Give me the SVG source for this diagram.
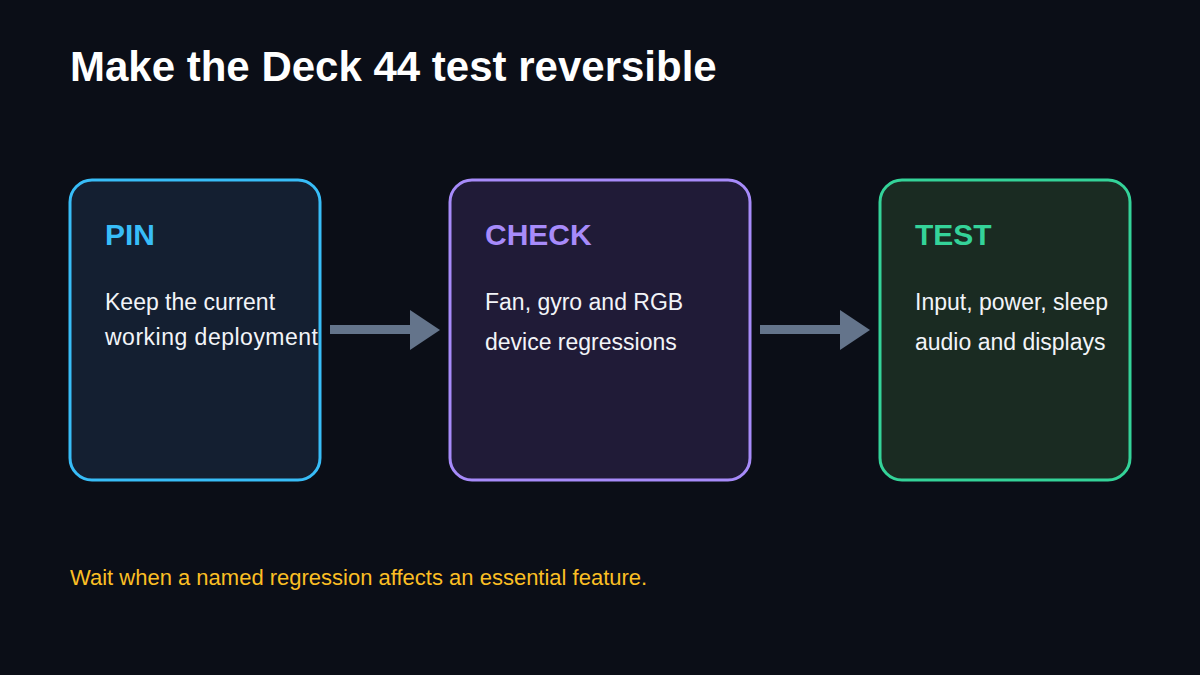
<svg xmlns="http://www.w3.org/2000/svg" width="1200" height="675" viewBox="0 0 1200 675">
<style>
text{font-family:"Liberation Sans",Arial,sans-serif}
.h{font-size:30px;font-weight:bold}
.b{font-size:23px;fill:#f2f4f8}
</style>
<rect width="1200" height="675" fill="#0b0e17"/>
<text x="70" y="81" font-size="42" font-weight="bold" fill="#fff">Make the Deck 44 test reversible</text>
<g id="pin"><rect x="70" y="180" width="250" height="300" rx="22" fill="#141f31" stroke="#38bdf8" stroke-width="3"/>
<text x="105" y="245" class="h" fill="#38bdf8">PIN</text>
<text x="105" y="310" class="b">Keep the current</text><text x="105" y="345" class="b" textLength="213">working deployment</text></g>
<g id="check"><rect x="450" y="180" width="300" height="300" rx="22" fill="#201b37" stroke="#a78bfa" stroke-width="3"/>
<text x="485" y="245" class="h" fill="#a78bfa">CHECK</text>
<text x="485" y="310" class="b">Fan, gyro and RGB</text><text x="485" y="350" class="b">device regressions</text></g>
<g id="test"><rect x="880" y="180" width="250" height="300" rx="22" fill="#1a2b22" stroke="#34d399" stroke-width="3"/>
<text x="915" y="245" class="h" fill="#34d399">TEST</text>
<text x="915" y="310" class="b">Input, power, sleep</text><text x="915" y="350" class="b">audio and displays</text></g>
<g id="connectors" fill="#64748b">
<rect x="330" y="325" width="82" height="9"/><path d="M410,310L440,330L410,350z"/>
<rect x="760" y="325" width="82" height="9"/><path d="M840,310L870,330L840,350z"/>
</g>
<text x="70" y="585" font-size="22" fill="#fbbf24">Wait when a named regression affects an essential feature.</text>
</svg>
